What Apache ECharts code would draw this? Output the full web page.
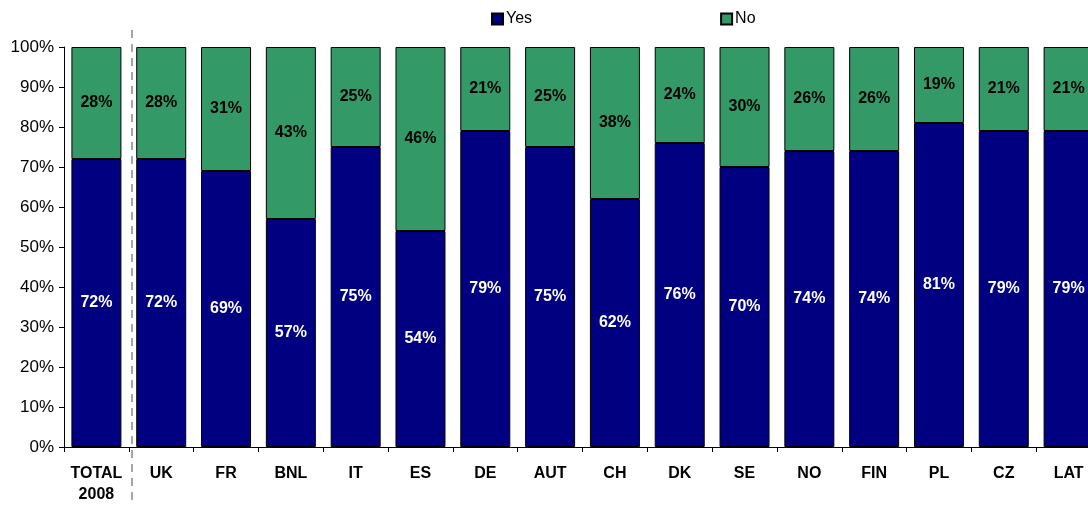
<!DOCTYPE html>
<html>
<head>
<meta charset="utf-8">
<script src="https://cdn.jsdelivr.net/npm/echarts@6/dist/echarts.min.js"></script>
<style>
  html, body { margin: 0; padding: 0; background: #fff; overflow: hidden; }
  /* the original chart is cut off at the right edge, so the canvas runs past the window */
  #chart { width: 1110px; height: 506px; }
</style>
</head>
<body>
<div id="chart"></div>
<script>
// categories and shares (in %)
const categories = ['TOTAL\n2008', 'UK', 'FR', 'BNL', 'IT', 'ES', 'DE', 'AUT', 'CH', 'DK', 'SE', 'NO', 'FIN', 'PL', 'CZ', 'LAT']
const yesValues = [72, 72, 69, 57, 75, 54, 79, 75, 62, 76, 70, 74, 74, 81, 79, 79]
const noValues = [28, 28, 31, 43, 25, 46, 21, 25, 38, 24, 30, 26, 26, 19, 21, 21]
const yTicks = [0, 10, 20, 30, 40, 50, 60, 70, 80, 90, 100]

let myChart = echarts.init(document.getElementById('chart'))
let font = 'Liberation Sans, Arial, sans-serif'
let option = {
  animation: false,
  textStyle: { fontFamily: font },
  legend: {
    top: 6,
    left: 486,
    itemGap: 188,
    itemWidth: 11,
    itemHeight: 11,
    icon: 'rect',
    textStyle: { fontSize: 16, color: '#000', padding: [0, 0, 0, -2] },
    data: ['Yes', 'No']
  },
  grid: {
    left: 64,
    top: 47,
    right: 9,
    height: 400
  },
  xAxis: {
    type: 'category',
    data: categories,
    axisLine: { lineStyle: { color: '#000', width: 1 } },
    axisTick: { show: true, length: 5, lineStyle: { color: '#000' } },
    axisLabel: {
      interval: 0,
      color: '#000',
      fontWeight: 'bold',
      fontSize: 16,
      lineHeight: 21,
      margin: 16
    }
  },
  yAxis: {
    type: 'value',
    min: 0,
    max: 100,
    interval: 10,
    axisLine: { show: true, lineStyle: { color: '#000' } },
    axisTick: { show: true, length: 5, inside: false, lineStyle: { color: '#000' } },
    axisLabel: {
      color: '#000',
      fontSize: 17,
      margin: 10,
      formatter: function (v) { return yTicks.indexOf(v) >= 0 ? v + '%' : '' }
    },
    splitLine: { show: false }
  },
  series: [
    {
      name: 'Yes',
      type: 'bar',
      stack: 'all',
      barWidth: 50,
      itemStyle: { color: '#000080', borderColor: '#000', borderWidth: 1 },
      label: {
        show: true,
        position: 'inside',
        color: '#fff',
        fontWeight: 'bold',
        fontSize: 16,
        formatter: '{c}%'
      },
      data: yesValues
    },
    {
      name: 'No',
      type: 'bar',
      stack: 'all',
      barWidth: 50,
      itemStyle: { color: '#339966', borderColor: '#000', borderWidth: 1 },
      label: {
        show: true,
        position: 'inside',
        color: '#000',
        fontWeight: 'bold',
        fontSize: 16,
        formatter: '{c}%'
      },
      data: noValues
    }
  ],
  graphic: [
    {
      type: 'line',
      shape: { x1: 132, y1: 30, x2: 132, y2: 506 },
      style: { stroke: '#a6a6a6', lineWidth: 2, lineDash: [8, 6] },
      z: 10
    }
  ]
}
myChart.setOption(option)
</script>
</body>
</html>
